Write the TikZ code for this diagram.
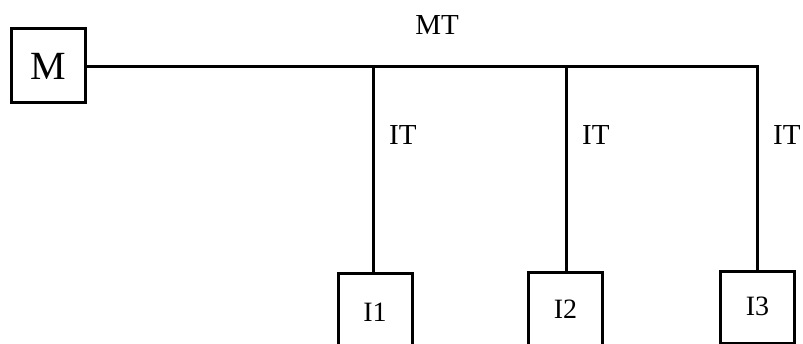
\documentclass[tikz,border=0pt]{standalone}
\usepackage{fontspec}
\setmainfont{Liberation Serif}
\usetikzlibrary{positioning,calc}
\tikzset{
  unitbox/.style={
    rectangle, draw=black, line width=3pt,
    minimum width=74pt, minimum height=#1,
    font=\fontsize{28}{32}\selectfont, inner sep=0pt
  },
  unitbox/.default=74pt,
  busline/.style={line width=3pt, color=black, line join=miter},
  buslabel/.style={font=\fontsize{29}{34}\selectfont, inner sep=0pt},
}
\begin{document}
\begin{tikzpicture}[x=1pt,y=1pt]
\useasboundingbox (0,0) rectangle (803,344);
\node[unitbox, font=\fontsize{40}{44}\selectfont] (master) at (48,278) {M};
\coordinate (tap1) at (373,277);
\coordinate (tap2) at (566,277);
\coordinate (tap3) at (757,277);
\node[unitbox=76pt] (i1) at (375,32) {I1};
\node[unitbox=76pt] (i2) at (565.5,33) {\raisebox{3pt}{I2}};
\node[unitbox=72pt] (i3) at (757.5,36.5) {\raisebox{2pt}{I3}};
\node[buslabel] (mt) at (437,319) {MT};
\node[buslabel, right=16pt of tap1, yshift=-68pt] (it1) {IT};
\node[buslabel, right=16pt of tap2, yshift=-68pt] (it2) {IT};
\node[buslabel, right=16pt of tap3, yshift=-68pt] (it3) {IT};
\draw[busline] (master.east |- tap1) -- (tap3) -- (tap3 |- i3.north);
\draw[busline] (tap1) -- (tap1 |- i1.north);
\draw[busline] (tap2) -- (tap2 |- i2.north);
\end{tikzpicture}
\end{document}
